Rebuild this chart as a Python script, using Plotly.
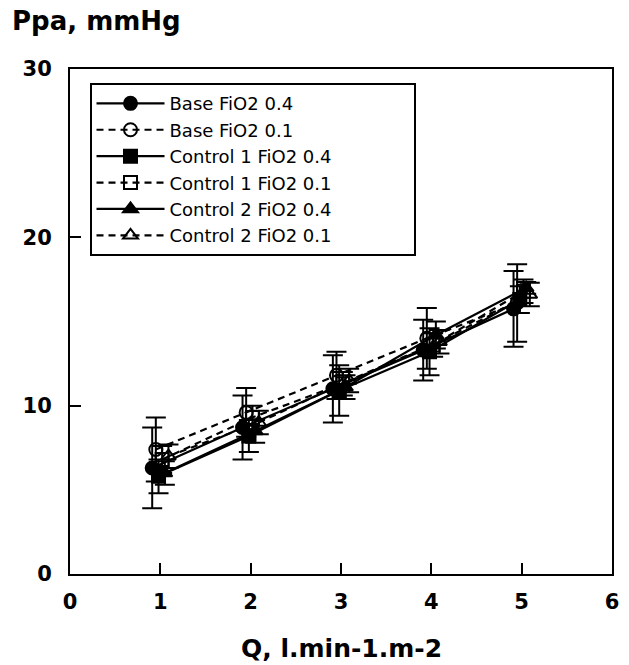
import plotly.graph_objects as go

q = [1, 2, 3, 4, 5]

names = ["Base FiO2 0.4", "Base FiO2 0.1", "Control 1 FiO2 0.4",
         "Control 1 FiO2 0.1", "Control 2 FiO2 0.4", "Control 2 FiO2 0.1"]

base_04 = [6.3, 8.7, 11.0, 13.3, 15.75]
base_04_sd = [2.4, 1.9, 2.0, 1.8, 2.25]
base_01 = [7.4, 9.6, 11.8, 14.0, 16.1]
base_01_sd = [1.9, 1.45, 1.4, 1.8, 2.3]
c1_04 = [5.8, 8.2, 10.9, 13.2, 16.3]
c1_04_sd = [1.0, 0.95, 1.5, 1.4, 0.8]
c1_01 = [6.8, 9.3, 11.3, 13.6, 16.8]
c1_01_sd = [0.8, 0.7, 0.7, 0.7, 0.7]
c2_04 = [6.0, 8.5, 11.1, 14.2, 17.0]
c2_04_sd = [0.7, 0.7, 0.7, 0.8, 0.35]
c2_01 = [7.0, 9.0, 11.5, 13.8, 16.6]
c2_01_sd = [0.7, 0.7, 0.7, 0.7, 0.7]

series = [base_04, base_01, c1_04, c1_01, c2_04, c2_01]
sds = [base_04_sd, base_01_sd, c1_04_sd, c1_01_sd, c2_04_sd, c2_01_sd]
symbols = ["circle", "circle-open", "square", "square-open",
           "triangle-up", "triangle-up-open"]
dashes = ["solid", "7px,5px", "solid", "7px,5px", "solid", "7px,5px"]
offsets = [-0.09, -0.05, -0.02, 0.02, 0.05, 0.09]

fig = go.Figure()
for i in range(6):
    fig.add_trace(go.Scatter(
        x=[v + offsets[i] for v in q], y=series[i], name=names[i],
        mode="lines+markers",
        line=dict(color="black", width=2.2, dash=dashes[i]),
        marker=dict(symbol=symbols[i], size=13, color="black",
                    line=dict(color="black", width=2)),
        error_y=dict(type="data", array=sds[i], visible=True,
                     color="black", thickness=2, width=10),
    ))

fig.update_layout(
    width=629, height=665,
    margin=dict(l=70, r=10, t=69, b=91),
    paper_bgcolor="white", plot_bgcolor="white",
    showlegend=True,
    legend=dict(x=0.036, y=0.972, xanchor="left", yanchor="top",
                orientation="h", entrywidthmode="pixels", entrywidth=239,
                bordercolor="black", borderwidth=2, bgcolor="white",
                font=dict(family="DejaVu Sans", size=18, color="black"),
                itemwidth=68, tracegroupgap=0),
    xaxis=dict(range=[0, 6], tickvals=[0, 1, 2, 3, 4, 5, 6],
               ticks="inside", ticklen=11, tickwidth=2, tickcolor="black",
               showline=True, linecolor="black", linewidth=2, mirror=True,
               showgrid=False, zeroline=False,
               tickfont=dict(family="DejaVu Sans", size=21, color="black", weight="bold"),
               ticklabelstandoff=8),
    yaxis=dict(range=[0, 30], tickvals=[0, 10, 20, 30],
               ticks="inside", ticklen=11, tickwidth=2, tickcolor="black",
               showline=True, linecolor="black", linewidth=2, mirror=True,
               showgrid=False, zeroline=False,
               tickfont=dict(family="DejaVu Sans", size=21, color="black", weight="bold"),
               ticklabelstandoff=12),
    annotations=[
        dict(text="Ppa, mmHg", xref="paper", yref="paper",
             x=-0.11, y=1.0, xanchor="left", yanchor="bottom",
             yshift=31, showarrow=False,
             font=dict(family="DejaVu Sans", size=26, color="black", weight="bold")),
        dict(text="Q, l.min-1.m-2", xref="paper", yref="paper",
             x=0.5, y=0, xanchor="center", yanchor="middle",
             yshift=-74, showarrow=False,
             font=dict(family="DejaVu Sans", size=25, color="black", weight="bold")),
    ],
)

fig.write_html("out.html")
